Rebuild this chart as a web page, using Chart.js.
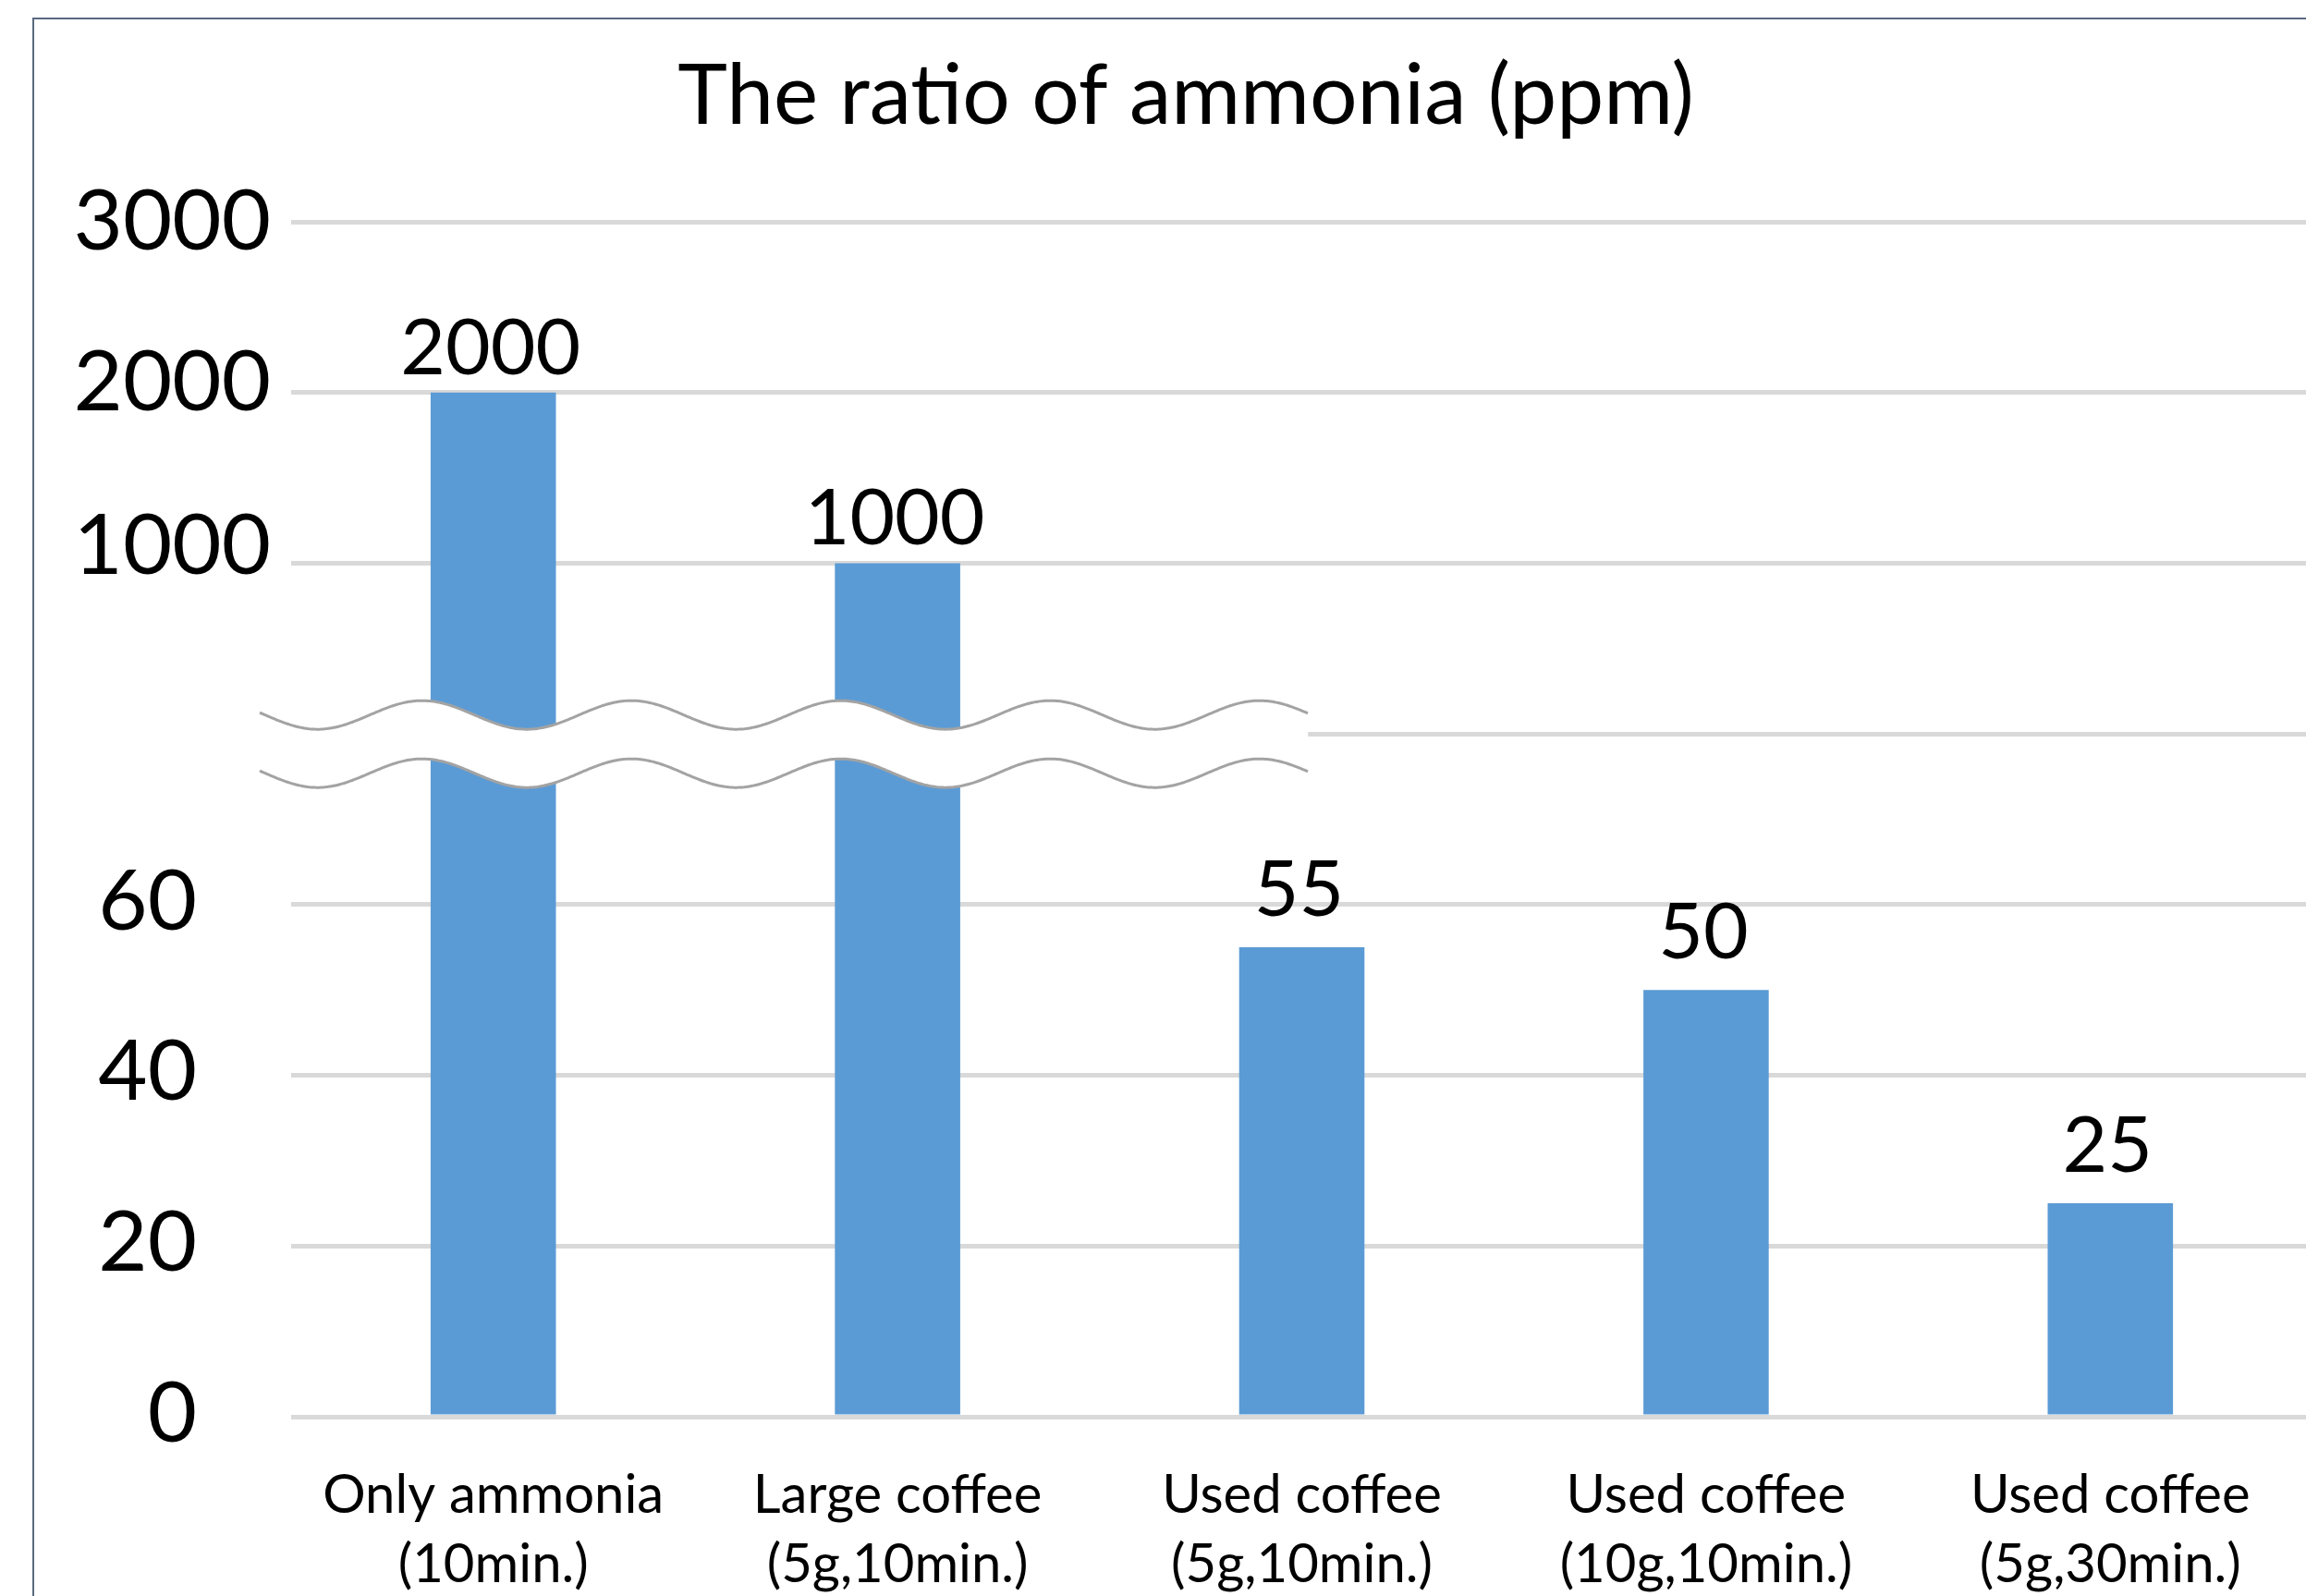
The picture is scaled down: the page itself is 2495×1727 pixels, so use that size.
<!DOCTYPE html>
<html>
<head>
<meta charset="utf-8">
<script src="https://cdn.jsdelivr.net/npm/chart.js@4.4.1/dist/chart.umd.min.js"></script>
<style>
  html, body { margin: 0; padding: 0; overflow: hidden; background: #fff; }
  canvas { display: block; }
</style>
</head>
<body>
<canvas id="ammoniaChart" width="2566" height="1780"></canvas>
<script>
// data
var categories = [
    ["Only ammonia", "(10min.)"],
    ["Large coffee", "(5g,10min.)"],
    ["Used coffee", "(5g,10min.)"],
    ["Used coffee", "(10g,10min.)"],
    ["Used coffee", "(5g,30min.)"]
];
var ammoniaPpm = [2000, 1000, 55, 50, 25];
var yTickValues = [0, 20, 40, 60, 1000, 2000, 3000];

// broken axis: 0-60 shown as is, one empty step for the break, then 1000 per step
function toAxis(v) {
    return v <= 80 ? v : 80 + v / 50;
}

var FONT = "Lato, 'Open Sans', sans-serif";

// frame round the chart
var framePlugin = {
    id: 'frame',
    beforeDraw: function (chart) {
        var c = chart.ctx;
        c.save();
        c.fillStyle = '#ffffff';
        c.fillRect(0, 0, chart.width, chart.height);
        c.strokeStyle = '#5a6a80';
        c.lineWidth = 2;
        c.strokeRect(36, 20, chart.width - 72, chart.height + 40);
        c.restore();
    }
};

// the wavy band marking the break in the y axis
var breakPlugin = {
    id: 'axisBreak',
    afterDatasetsDraw: function (chart) {
        var c = chart.ctx;
        var x = chart.scales.x, y = chart.scales.y;
        var mid = y.getPixelForValue(80) + 11;
        var half = 31.5, amp = 15.5, period = 226.5;
        var x0 = chart.chartArea.left - 34;
        var x1 = x.getPixelForValue(2) + 7;
        var peak = x.getPixelForValue(0) - 77;
        function wave(px, base) {
            return base - amp * Math.cos(2 * Math.PI * (px - peak) / period);
        }
        c.save();
        c.beginPath();
        for (var px = x0; px <= x1; px += 2) c.lineTo(px, wave(px, mid - half));
        for (var px2 = x1; px2 >= x0; px2 -= 2) c.lineTo(px2, wave(px2, mid + half));
        c.closePath();
        c.fillStyle = '#ffffff';
        c.fill();
        c.strokeStyle = '#a3a3a3';
        c.lineWidth = 3;
        [mid - half, mid + half].forEach(function (base) {
            c.beginPath();
            for (var p = x0; p <= x1; p += 2) c.lineTo(p, wave(p, base));
            c.stroke();
        });
        c.restore();
    }
};

// y labels (two groups sit at different places) and the value labels
var labelPlugin = {
    id: 'labels',
    afterDraw: function (chart) {
        var c = chart.ctx;
        var y = chart.scales.y;
        var left = chart.chartArea.left;
        c.save();
        c.fillStyle = '#000000';
        c.textAlign = 'right';
        c.textBaseline = 'middle';
        c.font = '92px ' + FONT;
        yTickValues.forEach(function (v) {
            var py = y.getPixelForValue(toAxis(v));
            var high = v >= 1000;
            var shift = v === 2000 ? -10 : v === 1000 ? -18 : (high ? 0 : -3);
            c.fillText(String(v), left - (high ? 22 : 102), py + shift);
        });

        c.textAlign = 'center';
        c.textBaseline = 'alphabetic';
        c.font = '84px ' + FONT;
        var meta = chart.getDatasetMeta(0);
        meta.data.forEach(function (bar, i) {
            var gap = ammoniaPpm[i] >= 1000 ? 20 : 34;
            c.fillText(String(ammoniaPpm[i]), bar.x - 3, bar.y - gap);
        });
        c.restore();
    }
};

var ctx = document.getElementById('ammoniaChart').getContext('2d');
var chart = new Chart(ctx, {
    type: 'bar',
    data: {
        labels: categories,
        datasets: [{
            label: 'ammonia (ppm)',
            data: ammoniaPpm.map(toAxis),
            backgroundColor: '#5b9bd5',
            barPercentage: 0.62,
            categoryPercentage: 0.5
        }]
    },
    options: {
        responsive: false,
        animation: false,
        layout: { padding: { left: 64, right: 64, top: 0, bottom: 0 } },
        plugins: {
            legend: { display: false },
            tooltip: { enabled: false },
            title: {
                display: true,
                text: 'The ratio of ammonia (ppm)',
                color: '#000000',
                font: { family: FONT, size: 91, weight: 'normal', lineHeight: 1 },
                padding: { top: 59, bottom: 90 }
            }
        },
        scales: {
            x: {
                grid: { display: false },
                border: { display: false },
                ticks: {
                    color: '#000000',
                    font: { family: FONT, size: 58, lineHeight: 1.29 },
                    padding: 40,
                    maxRotation: 0,
                    autoSkip: false
                },
                afterFit: function (s) { s.height = 1780 - 1533; }
            },
            y: {
                min: 0,
                max: 140,
                ticks: { stepSize: 20, display: false },
                grid: { color: '#d9d9d9', lineWidth: 5, drawTicks: false },
                border: { display: false },
                afterFit: function (s) { s.width = 251; }
            }
        }
    },
    plugins: [framePlugin, breakPlugin, labelPlugin]
});
</script>
</body>
</html>
